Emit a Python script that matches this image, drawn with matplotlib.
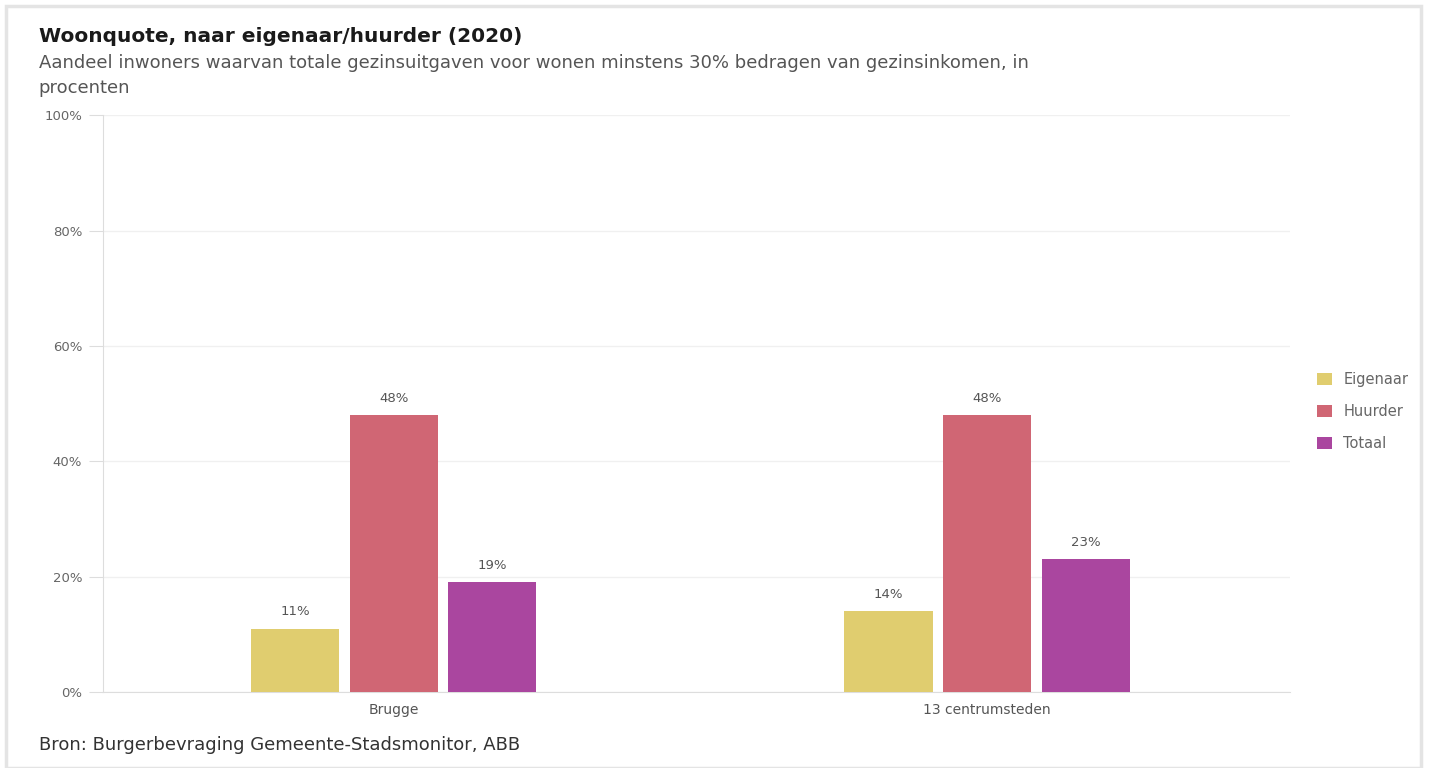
import matplotlib.pyplot as plt
import numpy as np
from matplotlib.patches import Rectangle

plt.rcParams['font.family'] = ['DejaVu Sans']

categories = ['Brugge', '13 centrumsteden']
series = ['Eigenaar', 'Huurder', 'Totaal']
eigenaar = [11, 14]
huurder = [48, 48]
totaal = [19, 23]
values = [eigenaar, huurder, totaal]
colors = ['#E0CD6F', '#D06674', '#AA469F']
yticks = [0, 20, 40, 60, 80, 100]

fig = plt.figure(figsize=(14.3, 7.68), dpi=100)
ax = fig.add_axes([0.072, 0.099, 0.830, 0.751])

# screenshot frame
fig.patches.append(Rectangle((0.004, 0.0), 0.99, 0.992, transform=fig.transFigure,
                             fill=False, edgecolor='#e4e4e4', lw=2.5))

x = np.arange(len(categories))
w = 0.149
gap = 0.166
for i, (name, vals, c) in enumerate(zip(series, values, colors)):
    pos = x + (i - 1) * gap
    ax.bar(pos, vals, width=w, color=c, label=name, zorder=3)
    for p, v in zip(pos, vals):
        ax.text(p, v + 1.8, f'{v}%', ha='center', va='bottom', fontsize=9.5, color='#555555')

ax.set_xlim(-0.49, 1.51)
ax.set_ylim(0, 100)
ax.set_yticks(yticks)
ax.set_yticklabels([f'{t}%' for t in yticks])
ax.set_xticks(x)
ax.set_xticklabels(categories)
ax.grid(axis='y', color='#f0f0f0', lw=1, zorder=0)
for s in ['top', 'right']:
    ax.spines[s].set_visible(False)
ax.spines['left'].set_color('#dddddd')
ax.spines['bottom'].set_color('#dddddd')
ax.tick_params(axis='y', colors='#dddddd', labelcolor='#666666', labelsize=9.5, length=10, pad=5)
ax.tick_params(axis='x', length=0, labelcolor='#555555', labelsize=10, pad=8)

ax.legend(loc='center left', bbox_to_anchor=(1.012, 0.486), frameon=False, fontsize=10.5,
          labelcolor='#666666', handlelength=1.0, handleheight=0.9, labelspacing=1.15)

fig.text(0.027, 0.953, 'Woonquote, naar eigenaar/huurder (2020)', fontsize=14.5,
         fontweight='bold', color='#1a1a1a', va='center')
fig.text(0.027, 0.918, 'Aandeel inwoners waarvan totale gezinsuitgaven voor wonen minstens 30% '
         'bedragen van gezinsinkomen, in', fontsize=13, color='#555555', va='center')
fig.text(0.027, 0.886, 'procenten', fontsize=13, color='#555555', va='center')
fig.text(0.027, 0.030, 'Bron: Burgerbevraging Gemeente-Stadsmonitor, ABB', fontsize=13,
         color='#333333', va='center')

fig.savefig('out.png', dpi=100)
